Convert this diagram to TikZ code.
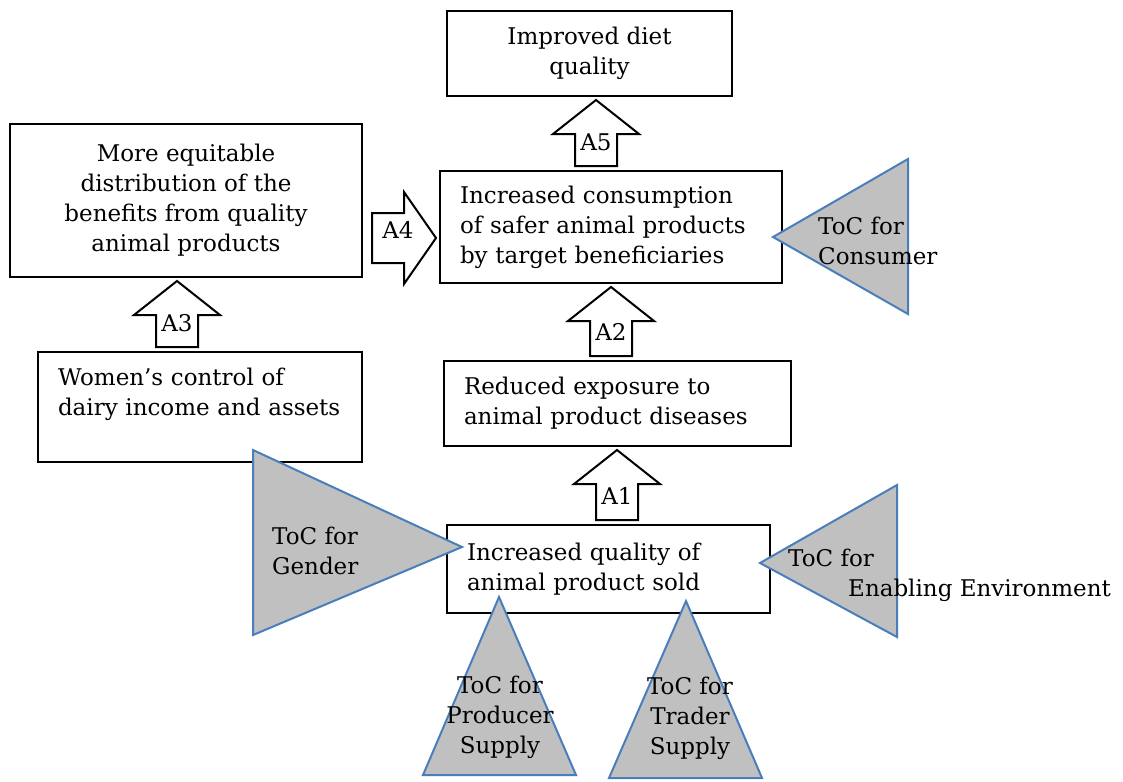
\documentclass[tikz,border=0pt]{standalone}
\usepackage{fontspec}
\setmainfont{DejaVu Serif}
\usetikzlibrary{calc}

\newcommand{\tocfont}{\fontsize{23}{30}\selectfont}

\definecolor{tocgray}{RGB}{192,192,192}
\definecolor{tocblue}{RGB}{74,126,187}

\begin{document}
\begin{tikzpicture}[x=1pt, y=-1pt,
  box/.style={draw, line width=2pt, inner sep=0pt, font=\tocfont},
  leftbox/.style={box, align=left, inner xsep=20pt},
  blockarrow/.style={draw, line width=2pt, fill=white, line join=miter},
  alabel/.style={font=\tocfont, inner sep=0pt},
  toc/.style={draw=tocblue, fill=tocgray, line width=2pt, line join=miter},
  toctext/.style={font=\tocfont, inner sep=0pt}]

\useasboundingbox (0,0) rectangle (1123,781);

% --- Outcome boxes ---
\node[box, align=center, minimum width=285pt, minimum height=85pt] (diet)
  at (589.5,53.5) {Improved diet\\quality};
\node[box, align=center, minimum width=352pt, minimum height=153pt] (equit)
  at (186,200.5) {More equitable\\distribution of the\\benefits from quality\\animal products};
\node[leftbox, text width=302pt, minimum height=112pt] (consum)
  at (611,227) {Increased consumption\\of safer animal products\\by target beneficiaries};
\node[leftbox, text width=307pt, minimum height=85pt] (reduced)
  at (617.5,403.5) {Reduced exposure to\\animal product diseases};
\node[leftbox, text width=284pt, minimum height=110pt] (women)
  at (200,407) {Women’s control of\\dairy income and assets\\~};
\node[leftbox, text width=283pt, minimum height=88pt] (quality)
  at (608.5,569) {Increased quality of\\animal product sold};

% --- Block arrows pointing up ---
\foreach \src/\dst/\xx/\lab in {quality/reduced/617/A1, reduced/consum/611/A2,
    women/equit/177/A3, consum/diet/596/A5} {
  \coordinate (c\lab) at (\xx,0);
  \draw[blockarrow] let \p1 = ($(c\lab |- \src.north)+(0,-4)$),
      \p2 = ($(c\lab |- \dst.south)+(0,3)$) in
    (\x1-21pt,\y1) -- (\x1-21pt,\y2-34pt) -- (\x1-43pt,\y2-34pt) -- (\x1,\y2)
    -- (\x1+43pt,\y2-34pt) -- (\x1+21pt,\y2-34pt) -- (\x1+21pt,\y1) -- cycle
    node[alabel] (\lab) at (\x1,\y1+24pt) {\lab};
}

% --- Block arrow pointing right (A4) ---
\coordinate (a4mid) at (0,238);
\draw[blockarrow] let \p1 = ($(equit.east |- a4mid)+(9,0)$),
    \p2 = ($(consum.west |- a4mid)+(-3,0)$) in
  (\x1,\y1+25pt) -- (\x2-32pt,\y1+25pt) -- (\x2-32pt,\y1+46pt) -- (\x2,\y2)
  -- (\x2-32pt,\y1-46pt) -- (\x2-32pt,\y1-25pt) -- (\x1,\y1-25pt) -- cycle
  node[alabel] (A4) at (\x1+26pt,\y1+8pt) {A4};

% --- ToC triangles (drawn last, on top of the boxes) ---
\draw[toc] (773,237) -- (908,159) -- (908,314) -- cycle;
\draw[toc] (253,450) -- (462,547) -- (253,635) -- cycle;
\draw[toc] (760,563) -- (897,485) -- (897,637) -- cycle;
\draw[toc] (499,597) -- (576,775) -- (423,775) -- cycle;
\draw[toc] (686,601) -- (762,778) -- (609,778) -- cycle;

\node[toctext, anchor=west, align=left] (consumer) at (818,241) {ToC for\\Consumer};
\node[toctext, anchor=west, align=left] (gender) at (272,551) {ToC for\\Gender};
\node[toctext, anchor=west, align=left] (enabling) at (788,575)
  {ToC for\\\hspace*{60pt}Enabling Environment};
\node[toctext, align=center] (producer) at (500,717) {ToC for\\Producer\\Supply};
\node[toctext, align=center] (trader) at (690,718) {ToC for\\Trader\\Supply};

\end{tikzpicture}
\end{document}
